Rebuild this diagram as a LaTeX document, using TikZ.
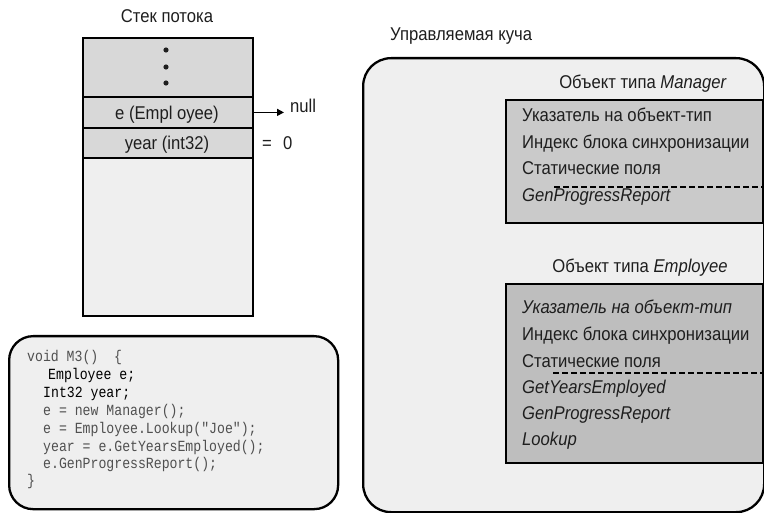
\documentclass[tikz,border=0pt]{standalone}
\usepackage{fontspec}
\setmainfont{Liberation Sans}[FakeStretch=0.9]
\newfontfamily\codefont{Liberation Mono}[FakeStretch=0.85]
\usetikzlibrary{arrows.meta}
\definecolor{paleback}{RGB}{239,239,239}
\definecolor{stackgray}{RGB}{216,216,216}
\definecolor{mgrgray}{RGB}{202,202,202}
\definecolor{empgray}{RGB}{190,190,190}
\definecolor{inkdark}{RGB}{30,30,30}
\definecolor{codeink}{RGB}{80,80,80}
\tikzset{
  lbl/.style={font=\fontsize{18.5}{22}\selectfont, text=inkdark, inner sep=0pt},
  code/.style={font=\codefont\fontsize{15.5}{18}\selectfont, text=codeink, inner sep=0pt, anchor=base west},
  codedark/.style={code, text=black},
  cell/.style={draw, line width=1.8pt, anchor=north west, minimum width=170pt, inner sep=0pt},
  objbox/.style={draw, line width=2.2pt, anchor=north west, minimum width=257pt, inner sep=0pt},
  sep/.style={line width=1.8pt, dash pattern=on 5.5pt off 3.5pt},
  region/.style={draw, line width=2.3pt, fill=paleback, anchor=north west, inner sep=0pt}
}
\begin{document}
\begin{tikzpicture}[x=1pt,y=-1pt]
\useasboundingbox (0,0) rectangle (764,513);

% thread stack
\node[lbl, anchor=base] (stacktitle) at (167,23) {Стек потока};
\node[cell, fill=stackgray, minimum height=59pt] (stacktop) at (82,37) {};
\node[cell, fill=stackgray, minimum height=31pt] (erow) at (82,96) {};
\node[cell, fill=stackgray, minimum height=30pt] (yearrow) at (82,127) {};
\node[cell, fill=paleback, minimum height=158pt] (stackrest) at (82,157) {};
\fill[inkdark] (166,50) circle[radius=2.6pt] (166,67) circle[radius=2.6pt] (166,83) circle[radius=2.6pt];
\node[lbl, anchor=base] (etext) at (167,120) {e (Empl oyee)};
\node[lbl, anchor=base] (yeartext) at (167,150) {year (int32)};

\node[lbl, anchor=base west, inner xsep=6pt] (nullnode) at (284,113) {null};
\draw[-{Triangle[length=7pt,width=7pt]}, line width=1.5pt] (erow.east) -- (erow.east -| nullnode.west);
\node[lbl, anchor=base west] (eqsign) at (262,150) {=};
\node[lbl, anchor=base west] (zeroval) at (283,150) {0};

% method source
\node[region, rounded corners=24pt, minimum width=329pt, minimum height=173pt] (codebox) at (8,335) {};
\node[code] (c1) at (27,362) {void M3()~~\{};
\node[codedark] (c2) at (48,380) {Employee e;};
\node[codedark] (c3) at (43,398) {Int32 year;};
\node[code] (c4) at (43,415) {e = new Manager();};
\node[code] (c5) at (43,433) {e = Employee.Lookup("Joe");};
\node[code] (c6) at (43,451) {year = e.GetYearsEmployed();};
\node[code] (c7) at (43,468) {e.GenProgressReport();};
\node[code] (c8) at (27,485) {\}};

% managed heap
\node[lbl, anchor=base west] (heaptitle) at (390,41) {Управляемая куча};
\node[region, rounded corners=28pt, minimum width=401pt, minimum height=454pt] (heap) at (362,57) {};

% Manager type object
\node[lbl, anchor=base] (mgrtitle) at (643,89) {Объект типа \textit{Manager}};
\node[objbox, fill=mgrgray, minimum height=123pt] (mgrbox) at (505,99) {};
\node[lbl, anchor=base west] (m1) at (522,122) {Указатель на объект-тип};
\node[lbl, anchor=base west] (m2) at (522,149) {Индекс блока синхронизации};
\node[lbl, anchor=base west] (m3) at (522,175) {Статические поля};
\node[lbl, anchor=base west] (m4) at (522,202) {\textit{GenProgressReport}};
\draw[sep] (554,187) -- (mgrbox.east |- 0,187);

% Employee type object
\node[lbl, anchor=base] (emptitle) at (640,273) {Объект типа \textit{Employee}};
\node[objbox, fill=empgray, minimum height=179pt] (empbox) at (505,283) {};
\node[lbl, anchor=base west] (p1) at (522,314) {\textit{Указатель на объект-тип}};
\node[lbl, anchor=base west] (p2) at (522,341) {Индекс блока синхронизации};
\node[lbl, anchor=base west] (p3) at (522,367) {Статические поля};
\node[lbl, anchor=base west] (p4) at (522,393) {\textit{GetYearsEmployed}};
\node[lbl, anchor=base west] (p5) at (522,419) {\textit{GenProgressReport}};
\node[lbl, anchor=base west] (p6) at (522,446) {\textit{Lookup}};
\draw[sep] (553,373) -- (empbox.east |- 0,373);
\end{tikzpicture}
\end{document}
